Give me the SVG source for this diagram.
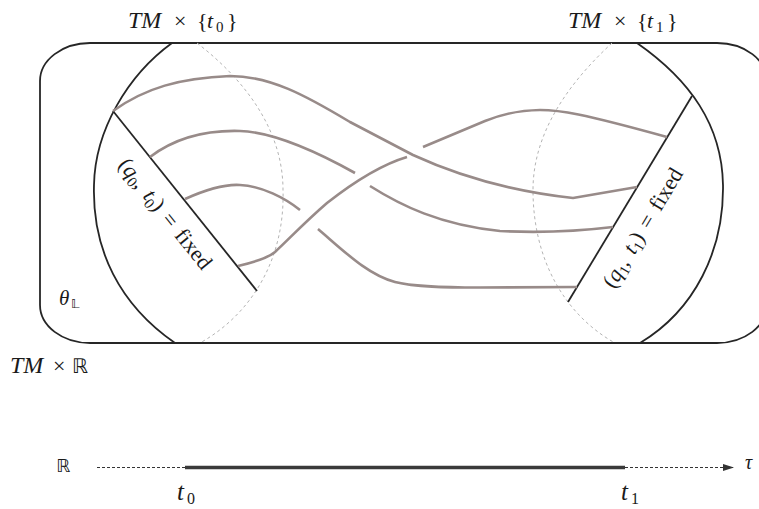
<svg xmlns="http://www.w3.org/2000/svg" width="759" height="509" viewBox="0 0 759 509">
<style>
  .frame{fill:none;stroke:#262626;stroke-width:1.8}
  .hid{fill:none;stroke:#b4b4b4;stroke-width:1;stroke-dasharray:3 3}
  .path{fill:none;stroke:#988b89;stroke-width:2.6;stroke-linecap:butt;stroke-linejoin:round}
  .m{font-family:"Liberation Serif","DejaVu Serif",serif;fill:#1a1a1a}
  .i{font-style:italic}
  .bb{font-family:"DejaVu Sans","DejaVu Serif",sans-serif;fill:#1a1a1a;font-style:normal}
  .dash{stroke:#333;stroke-width:1.1;stroke-dasharray:3 2;fill:none}
</style>
<defs>
  <marker id="arr" markerWidth="12" markerHeight="8" refX="11" refY="4" orient="auto" markerUnits="userSpaceOnUse">
    <path d="M0,0.5 L11,4 L0,7.5 Z" fill="#333"/>
  </marker>
</defs>

<g id="manifold">
  <rect class="frame" x="40" y="43" width="727" height="300" rx="50" ry="38"/>
  <text class="m" y="373" font-size="22"><tspan class="i" x="10" font-size="24">TM</tspan><tspan x="53">×</tspan><tspan class="bb" x="72" font-size="20">ℝ</tspan></text>
  <text class="m" y="305" font-size="21"><tspan class="i" x="59">θ</tspan><tspan class="bb" x="71" dy="3" font-size="13">𝕃</tspan></text>
</g>

<g id="slice-t0">
  <path class="frame" d="M172,43 C128,75 95,130 94,185 C92,250 120,305 175,343"/>
  <path class="hid" d="M197,43 C245,80 283,130 283,190 C285,255 255,312 200,343"/>
  <line class="frame" x1="113" y1="111" x2="257" y2="291"/>
  <text class="m" font-size="22" y="28"><tspan class="i" x="128" font-size="24">TM</tspan><tspan x="174">×</tspan><tspan x="197">{</tspan><tspan class="i" x="207">t</tspan><tspan x="216" dy="4" font-size="15">0</tspan><tspan x="227" dy="-4">}</tspan></text>
  <text class="m" font-size="22" word-spacing="3" text-anchor="middle" transform="translate(159.7,218.2) rotate(51.3)">(<tspan class="i">q</tspan><tspan dy="4" font-size="15">0</tspan><tspan dy="-4">, </tspan><tspan class="i">t</tspan><tspan dy="4" font-size="15">0</tspan><tspan dy="-4">) = fixed</tspan></text>
</g>

<g id="slice-t1">
  <path class="frame" d="M637,43 C690,80 722,125 723,185 C724,250 695,310 640,343"/>
  <path class="hid" d="M612,43 C572,80 533,130 533,190 C533,260 565,315 615,343"/>
  <line class="frame" x1="692" y1="96" x2="568" y2="302"/>
  <text class="m" font-size="22" y="28"><tspan class="i" x="568" font-size="24">TM</tspan><tspan x="614">×</tspan><tspan x="637">{</tspan><tspan class="i" x="647">t</tspan><tspan x="656" dy="4" font-size="15">1</tspan><tspan x="667" dy="-4">}</tspan></text>
  <text class="m" font-size="22" word-spacing="3" text-anchor="middle" transform="translate(648.9,231.6) rotate(-59)">(<tspan class="i">q</tspan><tspan dy="4" font-size="15">1</tspan><tspan dy="-4">, </tspan><tspan class="i">t</tspan><tspan dy="4" font-size="15">1</tspan><tspan dy="-4">) = fixed</tspan></text>
</g>

<g id="connectors">
  <path class="path" d="M113,111 C145,88 180,78 230,76 C270,76 305,95 350,122 L413,155 C450,172 500,190 573,198 L637,187"/>
  <path class="path" d="M150,157 C175,138 205,130 240,131 C270,132 310,148 355,173"/>
  <path class="path" d="M370,186 C400,205 440,225 500,231 C540,233 580,231 613,227"/>
  <path class="path" d="M185,199 C205,190 225,184 240,185 C262,186 285,198 300,210"/>
  <path class="path" d="M318,229 C345,252 368,275 395,282 C415,287 445,287.5 480,287.5 L577,287"/>
  <path class="path" d="M238,266 C255,262 268,258 275,252 C290,238 305,222 327,203 C350,185 380,165 407,157"/>
  <path class="path" d="M423,147 L485,121 C505,113 520,110 540,110 C560,110 580,113 667,137"/>
</g>

<g id="axis">
  <text class="bb" x="56" y="472" font-size="18">ℝ</text>
  <line class="dash" x1="97" y1="467.5" x2="185" y2="467.5"/>
  <line x1="185" y1="467.5" x2="625" y2="467.5" stroke="#3a3a3a" stroke-width="3.6"/>
  <line class="dash" x1="625" y1="467.5" x2="734" y2="467.5" marker-end="url(#arr)"/>
  <text class="m i" x="745" y="469" font-size="20">τ</text>
  <text class="m" y="500" font-size="25"><tspan class="i" x="177">t</tspan><tspan x="187" dy="4" font-size="16">0</tspan></text>
  <text class="m" y="500" font-size="25"><tspan class="i" x="621">t</tspan><tspan x="631" dy="4" font-size="16">1</tspan></text>
</g>
</svg>
